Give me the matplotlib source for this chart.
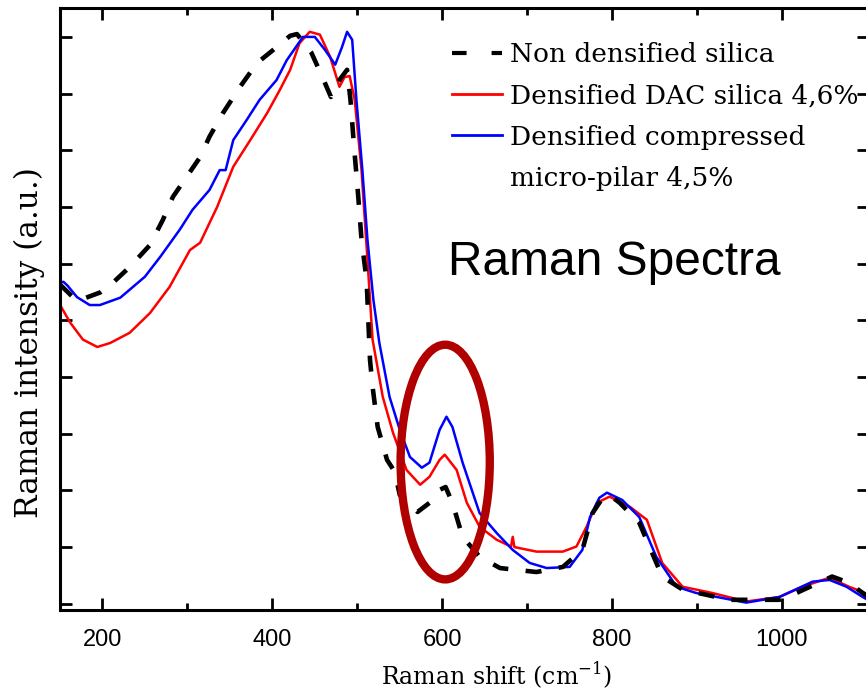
import matplotlib
matplotlib.use("Agg")
import matplotlib.pyplot as plt
from matplotlib.lines import Line2D
from matplotlib.patches import Ellipse
from matplotlib.ticker import MultipleLocator

# =========================
# SPECTRA (Raman shift in cm-1, normalised intensity)
# =========================

x_silica = [150, 170, 197, 212, 232, 256, 271, 283, 299, 315, 326, 342, 362, 382,
            401, 421, 429, 446, 459, 469, 479, 488, 492, 496, 501, 505, 511, 513,
            515, 518, 524, 535, 544, 550, 571, 585, 597, 604, 612, 624, 644, 668,
            711, 742, 765, 777, 789, 797, 809, 832, 859, 883, 938, 997, 1017,
            1059, 1079, 1095, 1102]
y_silica = [0.563, 0.534, 0.549, 0.566, 0.594, 0.633, 0.677, 0.718, 0.753, 0.788,
            0.824, 0.866, 0.912, 0.954, 0.977, 1.002, 1.005, 0.972, 0.929, 0.894,
            0.924, 0.942, 0.889, 0.810, 0.721, 0.642, 0.571, 0.500, 0.430, 0.383,
            0.312, 0.254, 0.233, 0.192, 0.162, 0.178, 0.201, 0.206, 0.178, 0.118,
            0.083, 0.063, 0.056, 0.065, 0.095, 0.160, 0.187, 0.192, 0.178, 0.143,
            0.048, 0.025, 0.007, 0.007, 0.019, 0.048, 0.037, 0.019, 0.012]

x_dac = [150, 152, 162, 177, 194, 209, 232, 256, 279, 303, 315, 335, 354, 374, 394,
         409, 421, 432, 444, 456, 468, 479, 485, 491, 497, 505, 512, 518, 530, 542,
         558, 574, 585, 597, 603, 617, 629, 644, 664, 681, 683, 685, 711, 742, 758,
         770, 782, 797, 821, 841, 859, 883, 918, 958, 997, 1024, 1056, 1079, 1095,
         1102]
y_dac = [0.527, 0.522, 0.496, 0.466, 0.453, 0.460, 0.478, 0.513, 0.559, 0.624,
         0.637, 0.700, 0.771, 0.818, 0.866, 0.907, 0.942, 0.989, 1.009, 1.004,
         0.965, 0.912, 0.929, 0.931, 0.889, 0.765, 0.607, 0.466, 0.365, 0.302,
         0.236, 0.210, 0.224, 0.254, 0.263, 0.236, 0.178, 0.136, 0.113, 0.101,
         0.118, 0.100, 0.092, 0.092, 0.101, 0.136, 0.178, 0.189, 0.171, 0.148,
         0.072, 0.030, 0.019, 0.004, 0.012, 0.030, 0.046, 0.030, 0.021, 0.015]

x_pilar = [150, 154, 159, 170, 185, 197, 221, 232, 250, 268, 291, 306, 326, 338,
           345, 354, 370, 385, 405, 417, 424, 436, 450, 462, 474, 482, 488, 494,
           499, 506, 512, 519, 526, 538, 550, 562, 576, 585, 597, 605, 612, 624,
           644, 664, 683, 703, 723, 750, 765, 774, 785, 794, 812, 832, 852, 876,
           899, 958, 997, 1036, 1056, 1076, 1095, 1102]
y_pilar = [0.566, 0.568, 0.561, 0.541, 0.527, 0.527, 0.540, 0.554, 0.577, 0.612,
           0.660, 0.695, 0.730, 0.765, 0.765, 0.818, 0.854, 0.889, 0.924, 0.959,
           0.974, 1.000, 1.000, 0.977, 0.951, 0.982, 1.009, 0.995, 0.889, 0.765,
           0.642, 0.536, 0.460, 0.365, 0.307, 0.259, 0.240, 0.249, 0.307, 0.330,
           0.312, 0.249, 0.160, 0.125, 0.095, 0.072, 0.063, 0.065, 0.095, 0.153,
           0.187, 0.196, 0.183, 0.153, 0.083, 0.030, 0.019, 0.002, 0.012, 0.039,
           0.042, 0.030, 0.012, 0.006]

labels = ["Non densified silica", "Densified DAC silica 4,6%",
          "Densified compressed", "micro-pilar 4,5%"]

# band highlighted around 600 cm-1
band_center = (603.5, 0.250)
band_width = 105
band_height = 0.414

# =========================
# FIGURE
# =========================

fig = plt.figure(figsize=(8.66, 6.9), dpi=100)
ax = fig.add_axes([60 / 866, 80 / 690, 808.6 / 866, 602 / 690])

ax.plot(x_silica, y_silica, color="black", lw=3.3, dashes=(3.5, 3.8), zorder=3)
ax.plot(x_dac, y_dac, color="#ff0000", lw=1.8, zorder=2)
ax.plot(x_pilar, y_pilar, color="#0000ff", lw=1.8, zorder=2)

ax.add_patch(Ellipse(band_center, band_width, band_height, fill=False,
                     edgecolor="#b00000", lw=6, zorder=4))

ax.set_xlim(150, 1102)
ax.set_ylim(-0.011, 1.051)

ax.xaxis.set_major_locator(MultipleLocator(200))
ax.xaxis.set_minor_locator(MultipleLocator(100))
ax.yaxis.set_major_locator(MultipleLocator(0.1))
ax.set_yticklabels([])

ax.tick_params(which="both", direction="in", top=True, right=True, width=2)
ax.tick_params(which="major", length=8.5)
ax.tick_params(which="minor", length=5)
ax.tick_params(axis="x", labelsize=17, pad=14)
for lab in ax.get_xticklabels():
    lab.set_family("Liberation Sans")

for sp in ax.spines.values():
    sp.set_linewidth(2.2)

ax.set_xlabel("Raman shift (cm$^{\\mathregular{-1}}$)", family="DejaVu Serif",
              fontsize=17)
ax.xaxis.set_label_coords(437 / 808.6, -50 / 602)
ax.set_ylabel("Raman intensity (a.u.)", family="DejaVu Serif", fontsize=22.5)
ax.yaxis.set_label_coords(-15 / 808.6, 267 / 602)

# =========================
# LEGEND
# =========================

handles = [
    Line2D([], [], color="black", lw=3, dashes=(3.5, 6)),
    Line2D([], [], color="#ff0000", lw=2),
    Line2D([], [], color="#0000ff", lw=2),
    Line2D([], [], color="none"),
]
ax.legend(handles, labels, loc="upper left", bbox_to_anchor=(452 / 866, 648 / 690),
          bbox_transform=fig.transFigure, frameon=False, borderpad=0,
          borderaxespad=0, handlelength=1.9, handletextpad=0.3, labelspacing=0.62,
          prop={"family": "DejaVu Serif", "size": 19})

ax.text(448 / 866, 415 / 690, "Raman Spectra", transform=fig.transFigure,
        family="Liberation Sans", fontsize=34.5)

fig.savefig("out.png", dpi=100)
